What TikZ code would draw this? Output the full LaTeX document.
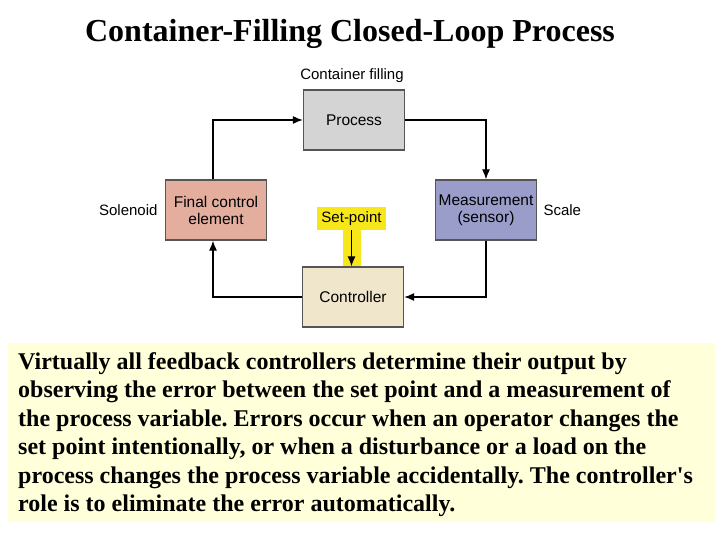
\documentclass[tikz,border=0pt]{standalone}
\usepackage{fontspec}
\setmainfont{Liberation Serif}[Ligatures=TeXOff]
\newfontfamily\diagfont{Liberation Sans}
\usetikzlibrary{arrows.meta}
\definecolor{procgray}{HTML}{D4D4D4}
\definecolor{fcesalmon}{HTML}{E4AE9E}
\definecolor{measblue}{HTML}{9A9DC9}
\definecolor{ctrlbeige}{HTML}{F0E6CB}
\definecolor{spyellow}{HTML}{F7E61A}
\definecolor{notebg}{HTML}{FFFFD9}
\definecolor{boxedge}{HTML}{555555}
\frenchspacing
\tikzset{
  blockbox/.style={draw=boxedge, line width=1.3pt, minimum width=101pt, minimum height=60pt, font=\diagfont\fontsize{15.5}{17}\selectfont, align=center, inner sep=1pt},
  sidelabel/.style={font=\diagfont\fontsize{15}{17}\selectfont},
  flow/.style={line width=1.2pt, -{Latex[length=10pt,width=8pt]}},
  noteline/.style={anchor=base west, inner sep=0pt, font=\bfseries\fontsize{24}{26}\selectfont},
}
\begin{document}
\begin{tikzpicture}[x=1pt,y=-1pt]
\useasboundingbox (0,0) rectangle (720,540);
\fill[white] (0,0) rectangle (720,540);
% title
\node[font=\bfseries\fontsize{32}{36}\selectfont] (title) at (350,34) {Container-Filling Closed-Loop Process};
% blocks
\node[blockbox, fill=procgray] (proc) at (354,120) {Process};
\node[blockbox, fill=fcesalmon] (fce) at (216,210) {Final control\\element};
\node[blockbox, fill=measblue] (meas) at (486,210) {Measurement\\(sensor)};
\node[blockbox, fill=ctrlbeige] (ctrl) at (353,297) {Controller};
% labels
\node[sidelabel] (cf) at (352,76) {Container filling};
\node[sidelabel, anchor=east] (sol) at (161,210) {Solenoid};
\node[sidelabel, anchor=west] (scale) at (540,210) {Scale};
% set point
\fill[spyellow] (343,230) rectangle (361,265.5);
\node[fill=spyellow, minimum width=69pt, minimum height=23pt, inner sep=1pt, font=\diagfont\fontsize{15}{17}\selectfont] (sp) at (351.5,218.5) {Set-point};
% connectors
\draw[flow] (fce.north -| 213,0) |- (proc.west);
\draw[flow] (proc.east) -| (meas.north);
\draw[flow] (meas.south) |- (ctrl.east);
\draw[flow] (ctrl.west) -| (fce.south -| 213,0);
\draw[flow] (sp.south) -- (sp.south |- ctrl.north);
% note
\fill[notebg] (8,343) rectangle (715,522);
\node[noteline] (l1) at (18,369) {Virtually all feedback controllers determine their output by};
\node[noteline] (l2) at (18,397.5) {observing the error between the set point and a measurement of};
\node[noteline] (l3) at (18,426) {the process variable. Errors occur when an operator changes the};
\node[noteline] (l4) at (18,454.5) {set point intentionally, or when a disturbance or a load on the};
\node[noteline] (l5) at (18,483) {process changes the process variable accidentally. The controller's};
\node[noteline] (l6) at (18,511.5) {role is to eliminate the error automatically.};
\end{tikzpicture}
\end{document}
